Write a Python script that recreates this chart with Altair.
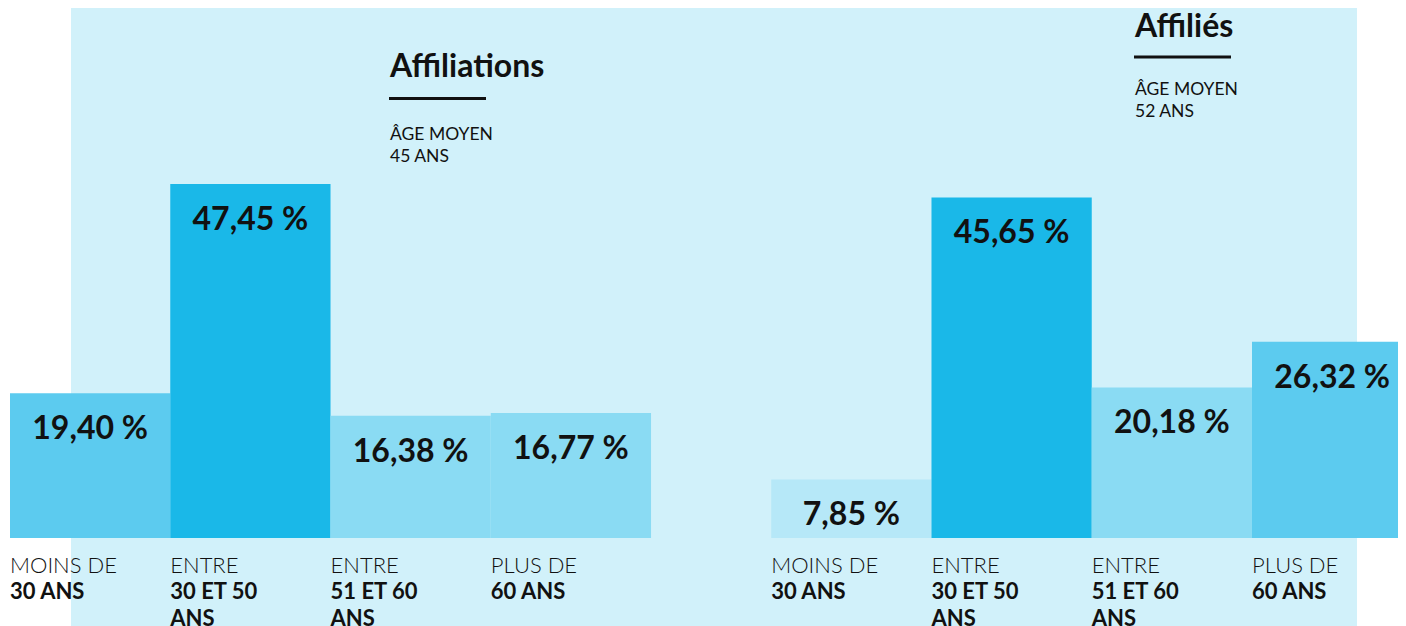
import altair as alt
import pandas as pd

# ---- data ----
groups = ["Affiliations", "Affiliés"]
group_ages = ["45 ANS", "52 ANS"]
cat_top = ["MOINS DE", "ENTRE", "ENTRE", "PLUS DE"]
cat_bottom = ["30 ANS", "30 ET 50\nANS", "51 ET 60\nANS", "60 ANS"]
values_affiliations = [19.40, 47.45, 16.38, 16.77]
values_affilies = [7.85, 45.65, 20.18, 26.32]
shade_affiliations = ["moyen", "foncé", "clair", "clair"]
shade_affilies = ["pâle", "foncé", "clair", "moyen"]

shade_names = ["foncé", "moyen", "clair", "pâle"]
shade_colors = ["#1ab8e8", "#5ccbef", "#8adbf3", "#b6e8f8"]

# ---- layout ----
W, H = 1390, 618
group_start = [0, 4.75]
FONT = "Lato"
INK = "#111111"

rows = []
for g, (vals, shades) in enumerate([(values_affiliations, shade_affiliations),
                                    (values_affilies, shade_affilies)]):
    for i, v in enumerate(vals):
        s = group_start[g] + i
        rows.append({
            "groupe": groups[g], "x0": s, "x1": s + 1, "mid": s + 0.5,
            "value": v, "base": 0, "shade": shades[i],
            "label": f"{v:.2f}".replace(".", ",") + " %",
            "top": cat_top[i], "bottom": cat_bottom[i],
        })
df = pd.DataFrame(rows)

xs = alt.Scale(domain=[-0.0125, 8.661], nice=False, zero=False)
# y: zero at 530px from top, 7.46 px per percent point
ys = alt.Scale(domain=[-(H - 530) / 7.46, 530 / 7.46], nice=False, zero=False)

bg = alt.Chart(pd.DataFrame({"a": [0]})).mark_rect(color="#d1f1fa").encode(
    x=alt.value(63), x2=alt.value(1349), y=alt.value(0), y2=alt.value(H)
)

bars = alt.Chart(df).mark_rect().encode(
    x=alt.X("x0:Q", scale=xs, axis=None),
    x2="x1:Q",
    y=alt.Y("value:Q", scale=ys, axis=None),
    y2="base:Q",
    color=alt.Color("shade:N", scale=alt.Scale(domain=shade_names, range=shade_colors), legend=None),
)

vlabels = alt.Chart(df).mark_text(
    font=FONT, fontSize=32, fontWeight="bold", baseline="middle", align="center",
    dy=36, color=INK
).encode(
    x=alt.X("mid:Q", scale=xs, axis=None),
    y=alt.Y("value:Q", scale=ys, axis=None),
    text="label:N",
)

ctop = alt.Chart(df).mark_text(
    font=FONT, fontSize=22, fontWeight=300, baseline="top", align="left",
    dx=0, dy=17.5, color=INK
).encode(
    x=alt.X("x0:Q", scale=xs, axis=None),
    y=alt.Y("base:Q", scale=ys, axis=None),
    text="top:N",
)

cbot = alt.Chart(df).mark_text(
    font=FONT, fontSize=22, fontWeight="bold", baseline="top", align="left",
    dx=0, dy=43.5, color=INK, lineBreak="\n", lineHeight=27
).encode(
    x=alt.X("x0:Q", scale=xs, axis=None),
    y=alt.Y("base:Q", scale=ys, axis=None),
    text="bottom:N",
)

# group annotations (title, underline, average age)
ann_pos = [
    {"x": 382, "title_y": 69, "rule_y": 90.5, "rule_x2": 478, "age_y": 132},
    {"x": 1127, "title_y": 29, "rule_y": 49, "rule_x2": 1223, "age_y": 87},
]
ann_layers = []
for g, p in enumerate(ann_pos):
    d = pd.DataFrame({"titre": [groups[g]], "age": ["ÂGE MOYEN\n" + group_ages[g]]})
    ann_layers.append(
        alt.Chart(d).mark_text(font=FONT, fontSize=32, fontWeight="bold", align="left",
                               baseline="alphabetic", color=INK).encode(
            x=alt.value(p["x"]), y=alt.value(p["title_y"]), text="titre:N")
    )
    ann_layers.append(
        alt.Chart(d).mark_rule(color=INK, strokeWidth=3).encode(
            x=alt.value(p["x"] - 1), x2=alt.value(p["rule_x2"]), y=alt.value(p["rule_y"]))
    )
    ann_layers.append(
        alt.Chart(d).mark_text(font=FONT, fontSize=17.5, fontWeight="normal", align="left",
                               baseline="alphabetic", color=INK, lineBreak="\n",
                               lineHeight=22).encode(
            x=alt.value(p["x"]), y=alt.value(p["age_y"]), text="age:N")
    )

chart = alt.layer(bg, bars, vlabels, ctop, cbot, *ann_layers).properties(
    width=W, height=H, padding=0, autosize=alt.AutoSizeParams(type="none"),
    background="white"
).configure_view(stroke=None)

chart.save("out.html", embed_options={"renderer": "svg", "actions": False})
